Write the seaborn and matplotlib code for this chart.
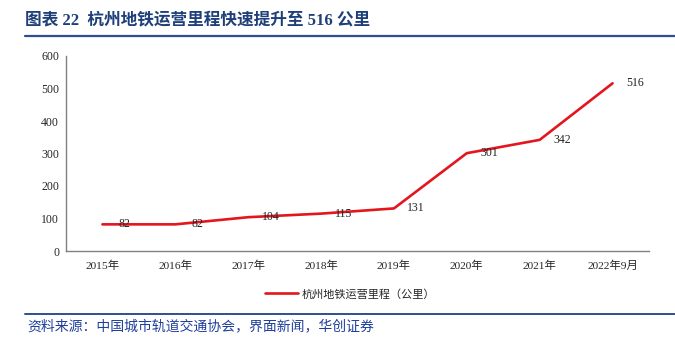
import matplotlib
matplotlib.use("Agg")
import matplotlib.pyplot as plt
import seaborn as sns
import pandas as pd
from matplotlib.lines import Line2D

categories = ["2015年", "2016年", "2017年", "2018年", "2019年", "2020年", "2021年", "2022年9月"]
values = [82, 82, 104, 115, 131, 301, 342, 516]
series_name = "杭州地铁运营里程（公里）"
title = "图表 22  杭州地铁运营里程快速提升至 516 公里"
source = "资料来源：中国城市轨道交通协会，界面新闻，华创证券"

sns.set_theme(style="white")
plt.rcParams['font.family'] = ['Liberation Serif', 'Noto Sans CJK SC']
fam = ['Liberation Serif', 'Noto Sans CJK SC']

df = pd.DataFrame({"x": range(len(categories)), "v": values})

fig = plt.figure(figsize=(6.75, 3.46), dpi=100)
ax = fig.add_axes([66/675, 1-251/346, (649-66)/675, (251-56)/346])

red = "#E3161E"
sns.lineplot(data=df, x="x", y="v", ax=ax, color=red, linewidth=1.9, legend=False)

for i, v in enumerate(values):
    ax.annotate(str(v), (i, v), xytext=(16, 0), textcoords="offset points",
                ha="center", va="center", fontsize=8.5, color="#222222", family=fam)

ax.set_xlim(-0.5, len(categories) - 0.5)
ax.set_ylim(0, 600)
ax.set_yticks(range(0, 601, 100))
ax.set_yticklabels([str(t) for t in range(0, 601, 100)], fontsize=8.5, family=fam)
ax.set_xticks(range(len(categories)))
ax.set_xticklabels(categories, fontsize=8.2, family=fam)
ax.set_xticks([i - 0.5 for i in range(len(categories) + 1)], minor=True)
ax.tick_params(axis="x", which="major", length=0, pad=7)
ax.tick_params(axis="x", which="minor", length=3, width=0.8, color="#808080", direction="out")
ax.tick_params(axis="y", which="major", length=3, width=0.8, color="#808080", direction="out", pad=2)
ax.set_xlabel("")
ax.set_ylabel("")
for s in ["top", "right"]:
    ax.spines[s].set_visible(False)
for s in ["left", "bottom"]:
    ax.spines[s].set_color("#808080")
    ax.spines[s].set_linewidth(1.0)

handle = Line2D([0], [0], color=red, linewidth=1.9)
fig.legend([handle], [series_name], loc="center", bbox_to_anchor=(350/675, 1-294/346),
           frameon=False, handlelength=3.0, handletextpad=0.3,
           prop={'family': ['Noto Sans CJK SC'], 'size': 8})

blue = "#1F3F7A"
fig.text(25/675, 1-20/346, title, fontsize=12, fontweight="bold", color=blue,
         ha="left", va="center", family=fam)
fig.add_artist(Line2D([25/675, 1.0], [1-36/346, 1-36/346], color="#2E4F8F", linewidth=1.6))
fig.add_artist(Line2D([25/675, 1.0], [1-314/346, 1-314/346], color="#2E4F8F", linewidth=1.4))
fig.text(27/675, 1-326/346, source, fontsize=10, color="#1F3F9A", ha="left", va="center",
         family=['Noto Sans CJK SC'], style="italic")

fig.savefig("out.png", dpi=100)
